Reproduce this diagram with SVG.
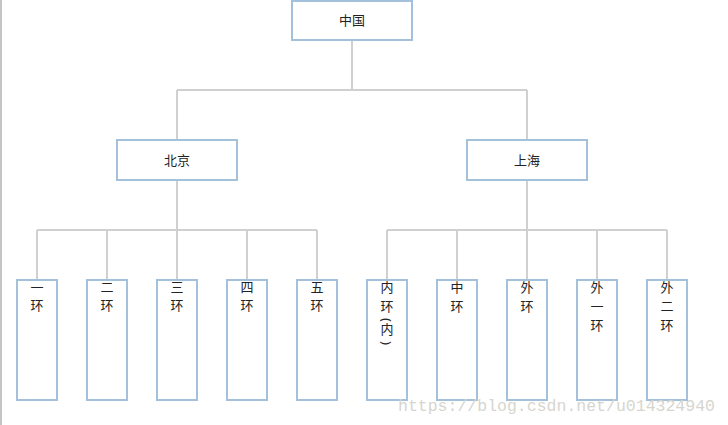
<svg xmlns="http://www.w3.org/2000/svg" width="728" height="425" viewBox="0 0 728 425">
<style>
.n{fill:#fff;stroke:#a3c1da;stroke-width:2}
.t{font-family:"Noto Sans CJK SC","Noto Sans",sans-serif;font-size:13px;fill:#222;text-anchor:middle}
.p{font-family:"Noto Sans","DejaVu Sans",sans-serif;font-size:13px;fill:#222;text-anchor:middle;dominant-baseline:central}
.c{fill:none;stroke:#d0d0d0;stroke-width:2}
</style>
<rect x="0" y="0" width="728" height="425" fill="#fff"/>
<line x1="1" y1="0" x2="1" y2="425" stroke="#b0b0b0" stroke-width="1.5"/>
<g id="connectors">
<path class="c" d="M352 40V90M177 90H527M177 90V140M527 90V140"/>
<path class="c" d="M177 180V230M37 230H317M37 230V280M107 230V280M177 230V280M247 230V280M317 230V280"/>
<path class="c" d="M527 180V230M387 230H667M387 230V280M457 230V280M527 230V280M597 230V280M667 230V280"/>
</g>
<g id="china"><rect class="n" x="292" y="1" width="120" height="39"/><text class="t" x="352" y="24.5">中国</text></g>
<g id="beijing"><rect class="n" x="117" y="140" width="120" height="40"/><text class="t" x="177" y="165">北京</text></g>
<g id="shanghai"><rect class="n" x="467" y="140" width="120" height="40"/><text class="t" x="527" y="165">上海</text></g>
<g id="r1"><rect class="n" x="17" y="280" width="40" height="120"/><text class="t"><tspan x="37" y="291.5">一</tspan><tspan x="37" y="310">环</tspan></text></g>
<g id="r2"><rect class="n" x="87" y="280" width="40" height="120"/><text class="t"><tspan x="107" y="291.5">二</tspan><tspan x="107" y="310">环</tspan></text></g>
<g id="r3"><rect class="n" x="157" y="280" width="40" height="120"/><text class="t"><tspan x="177" y="291.5">三</tspan><tspan x="177" y="310">环</tspan></text></g>
<g id="r4"><rect class="n" x="227" y="280" width="40" height="120"/><text class="t"><tspan x="247" y="291.5">四</tspan><tspan x="247" y="310">环</tspan></text></g>
<g id="r5"><rect class="n" x="297" y="280" width="40" height="120"/><text class="t"><tspan x="317" y="291.5">五</tspan><tspan x="317" y="310">环</tspan></text></g>
<g id="s1"><rect class="n" x="367" y="280" width="40" height="120"/><text class="t"><tspan x="387" y="291.5">内</tspan><tspan x="387" y="311">环</tspan><tspan x="387" y="334">内</tspan></text><text class="p" x="387" y="320" transform="rotate(90 387 320)">(</text><text class="p" x="387" y="343" transform="rotate(90 387 343)">)</text></g>
<g id="s2"><rect class="n" x="437" y="280" width="40" height="120"/><text class="t"><tspan x="457" y="291.5">中</tspan><tspan x="457" y="311">环</tspan></text></g>
<g id="s3"><rect class="n" x="507" y="280" width="40" height="120"/><text class="t"><tspan x="527" y="291.5">外</tspan><tspan x="527" y="311">环</tspan></text></g>
<g id="s4"><rect class="n" x="577" y="280" width="40" height="120"/><text class="t"><tspan x="597" y="291.5">外</tspan><tspan x="597" y="310.5">一</tspan><tspan x="597" y="330">环</tspan></text></g>
<g id="s5"><rect class="n" x="647" y="280" width="40" height="120"/><text class="t"><tspan x="667" y="291.5">外</tspan><tspan x="667" y="310.5">二</tspan><tspan x="667" y="330">环</tspan></text></g>
<text x="398" y="411" font-family="Liberation Mono, monospace" font-size="16.5" fill="#d6d6cf" textLength="317" lengthAdjust="spacingAndGlyphs">https://blog.csdn.net/u014324940</text>
</svg>
